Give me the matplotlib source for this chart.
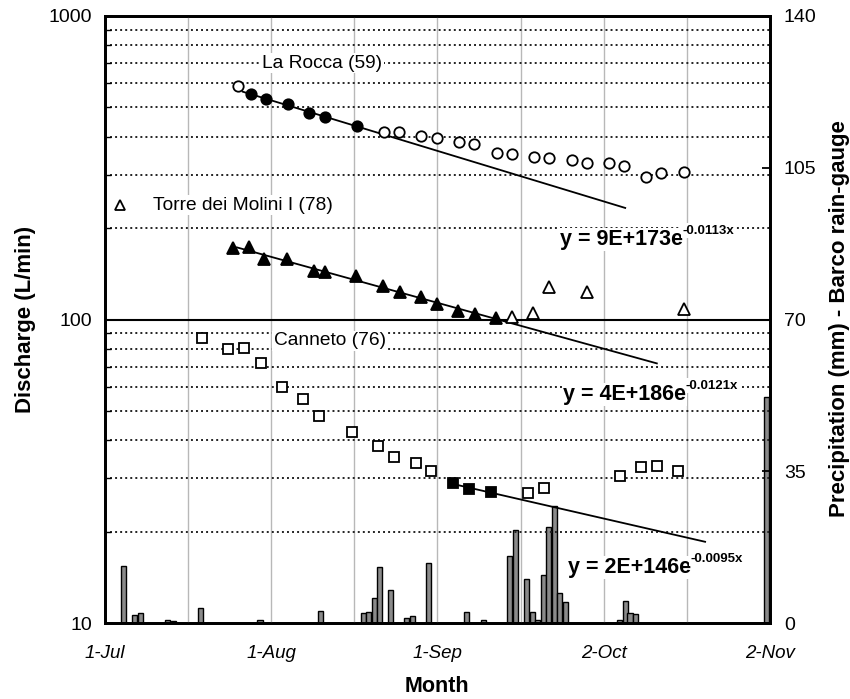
import numpy as np
import matplotlib.pyplot as plt

plt.rcParams['font.family'] = ['Liberation Sans', 'DejaVu Sans']

# days counted from 1-Jul
rocca_open_days = [24.8, 52.0, 54.8, 58.9, 61.9, 66.0, 68.8, 73.1, 75.9, 80.0, 82.8, 87.1, 89.9, 94.0, 96.8, 100.9, 103.7, 108.0]
rocca_open_vals = [588, 415, 415, 402, 396, 385, 379, 354, 351, 343, 340, 335, 328, 328, 321, 295, 304, 306]
rocca_fill_days = [27.2, 30.0, 34.1, 38.0, 41.0, 47.0]
rocca_fill_vals = [553, 532, 513, 479, 465, 434]

torre_fill_days = [23.9, 26.9, 29.6, 33.9, 38.9, 41.0, 46.8, 51.8, 55.0, 58.9, 61.9, 65.8, 69.0, 72.9]
torre_fill_vals = [172, 173, 158, 158, 144.5, 143, 139, 129, 123, 118.6, 112.5, 106.7, 104.3, 101]
torre_open_days = [75.9, 79.8, 82.8, 89.9, 108.0]
torre_open_vals = [101.9, 105, 128, 123, 108]

canneto_open_days = [18.1, 22.9, 25.9, 29.1, 33.0, 36.9, 39.9, 46.1, 50.9, 53.9, 58.0, 60.8, 78.9, 81.9, 96.0, 99.9, 102.9, 106.8]
canneto_open_vals = [86.9, 80, 80.6, 71.9, 59.9, 54.7, 48.1, 42.6, 38.3, 35.2, 33.7, 31.7, 26.8, 27.8, 30.5, 32.7, 32.9, 31.7]
canneto_fill_days = [64.9, 67.9, 72.0]
canneto_fill_vals = [28.9, 27.6, 27.0]

# trend line extents (days)
rocca_fit_range = [25.7, 97.0]
torre_fit_range = [24.6, 102.9]
canneto_fit_range = [64.9, 111.9]

rain_days = [3.5, 5.5, 6.6, 11.7, 12.7, 17.8, 28.9, 40.1, 48.2, 49.2, 50.2, 51.2, 53.3, 56.3, 57.4,
             60.3, 67.4, 70.5, 75.5, 76.5, 78.6, 79.7, 80.7, 81.7, 82.7, 83.8, 84.8, 85.8,
             95.9, 97.0, 97.9, 99.0, 123.3]
rain_mm = [13.1, 1.9, 2.2, 0.6, 0.4, 3.4, 0.6, 2.8, 2.4, 2.5, 5.8, 12.9, 7.5, 1.2, 1.7,
           13.9, 2.5, 0.8, 15.4, 21.4, 10.2, 2.5, 0.6, 11.1, 22.1, 27.1, 6.9, 4.8,
           0.6, 5.0, 2.2, 2.1, 52.2]

month_ticks = [0, 31, 62, 93, 124]
month_labels = ['1-Jul', '1-Aug', '1-Sep', '2-Oct', '2-Nov']

equations = [('y = 9E+173e', '-0.0113x', 84.8, 176),
             ('y = 4E+186e', '-0.0121x', 85.4, 54.3),
             ('y = 2E+146e', '-0.0095x', 86.3, 14.6)]


def trend(days, vals, rng):
    k, b = np.polyfit(days, np.log(vals), 1)
    xs = np.array(rng)
    return xs, np.exp(b + k * xs)


fig = plt.figure(figsize=(8.5, 6.99), dpi=100)
ax = fig.add_axes([105 / 850, 76 / 699, 665 / 850, 607 / 699])
ax2 = ax.twinx()
ax.set_zorder(ax2.get_zorder() + 1)
ax.patch.set_visible(False)

# precipitation bars
ax2.bar(rain_days, rain_mm, width=0.95, color='#8a8a8a', edgecolor='black', linewidth=1.0)
ax2.set_ylim(0, 140)
ax2.set_yticks([0, 35, 70, 105, 140])
ax2.tick_params(axis='y', direction='in', length=6, width=1.3, labelsize=14, pad=10)

ax.set_yscale('log')
ax.set_ylim(10, 1000)
ax.set_xlim(0, 124)

# grid
for d in np.arange(15.5, 124, 15.5):
    ax.axvline(d, color='#b8b8b8', lw=1.0, zorder=0)
for v in list(range(20, 100, 10)) + list(range(200, 1000, 100)):
    ax.axhline(v, color='#222222', lw=1.4, ls=(0, (1, 1.6)), zorder=1)
ax.axhline(100, color='black', lw=1.5, zorder=1)

# trend lines
for d, v, r in [(rocca_fill_days, rocca_fill_vals, rocca_fit_range),
                (torre_fill_days, torre_fill_vals, torre_fit_range),
                (canneto_fill_days, canneto_fill_vals, canneto_fit_range)]:
    xs, ys = trend(d, v, r)
    ax.plot(xs, ys, color='black', lw=1.3, zorder=3)

mk = dict(linestyle='none', markeredgecolor='black', markeredgewidth=1.3, zorder=4)
ax.plot(rocca_open_days, rocca_open_vals, marker='o', ms=7.5, mfc='white', **mk)
ax.plot(rocca_fill_days, rocca_fill_vals, marker='o', ms=7.5, mfc='black', **mk)
ax.plot(torre_fill_days, torre_fill_vals, marker='^', ms=8, mfc='black', **mk)
ax.plot(torre_open_days, torre_open_vals, marker='^', ms=8, mfc='white', **mk)
ax.plot(canneto_open_days, canneto_open_vals, marker='s', ms=7, mfc='white', **mk)
ax.plot(canneto_fill_days, canneto_fill_vals, marker='s', ms=7, mfc='black', **mk)

# station labels
box = dict(facecolor='white', edgecolor='none', pad=1)
ax.text(40.5, 700, 'La Rocca (59)', fontsize=13.8, ha='center', va='center', bbox=box, zorder=5)
ax.text(9.0, 238, 'Torre dei Molini I (78)', fontsize=13.8, ha='left', va='center', bbox=box, zorder=5)
ax.plot([2.8], [238], marker='^', ms=7, mfc='white', **mk)
ax.text(41.9, 85, 'Canneto (76)', fontsize=13.8, ha='center', va='center', bbox=box, zorder=5)

for main, sup, x, y in equations:
    t = ax.text(x, y, main, fontsize=15.5, fontweight='bold', ha='left', va='baseline',
                bbox=box, zorder=5)
    ax.annotate(sup, xy=(1.0, 0.78), xycoords=t, fontsize=9.5, fontweight='bold',
                ha='left', va='baseline', bbox=box, zorder=5)

ax.set_xticks(month_ticks)
ax.set_xticklabels(month_labels, fontstyle='italic')
ax.tick_params(axis='x', direction='in', length=0, labelsize=13.5, pad=16)
ax.tick_params(axis='y', which='major', direction='in', length=6, width=1.3, labelsize=14, pad=9)
ax.tick_params(axis='y', which='minor', direction='in', length=4, width=1.0)
ax.set_yticks([10, 100, 1000])
ax.set_yticklabels(['10', '100', '1000'])

for a in (ax, ax2):
    for s in a.spines.values():
        s.set_linewidth(2.0)

fig.text(26 / 850, 1 - 319 / 699, 'Discharge (L/min)', rotation=90, fontsize=16,
         fontweight='bold', ha='center', va='center')
fig.text(839 / 850, 1 - 319 / 699, 'Precipitation (mm) - Barco rain-gauge', rotation=90,
         fontsize=16, fontweight='bold', ha='center', va='center')
fig.text(437 / 850, 1 - 687 / 699, 'Month', fontsize=15.5, fontweight='bold',
         ha='center', va='center')

fig.savefig('out.png', dpi=100)
